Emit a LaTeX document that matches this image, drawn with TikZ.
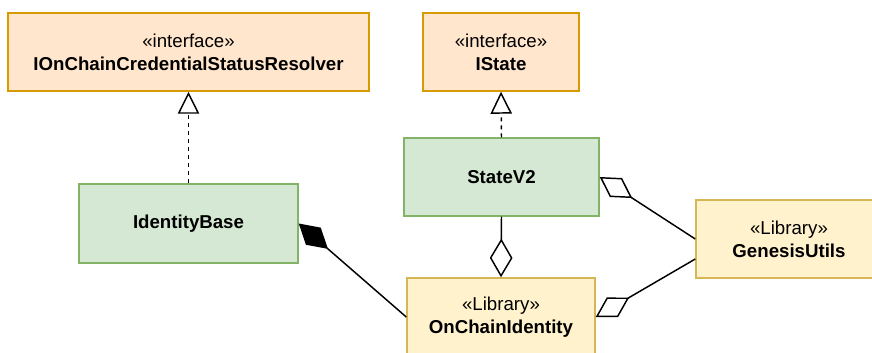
\documentclass[tikz,border=0pt]{standalone}
\usepackage{fontspec}
\setmainfont{Liberation Sans}
\usetikzlibrary{arrows.meta,calc}
\definecolor{ifill}{HTML}{FFE6CC}
\definecolor{idraw}{HTML}{D79B00}
\definecolor{cfill}{HTML}{D5E8D4}
\definecolor{cdraw}{HTML}{82B366}
\definecolor{lfill}{HTML}{FFF2CC}
\definecolor{ldraw}{HTML}{D6B656}
\tikzset{
  umlbox/.style={rectangle, line width=1.1pt, align=center, inner sep=0pt,
    font=\fontsize{14}{17.5}\selectfont},
  ifacebox/.style={umlbox, fill=ifill, draw=idraw},
  classbox/.style={umlbox, fill=cfill, draw=cdraw},
  libbox/.style={umlbox, fill=lfill, draw=ldraw},
  conn/.style={line width=1.1pt, black},
  realize/.style={conn, dash pattern=on 3pt off 3pt, -{Triangle[open, length=16.5pt, width=16pt, line width=1.1pt]}},
  aggr/.style={conn, -{Diamond[fill=white, length=29pt, width=17pt, line width=1.1pt]}},
  compo/.style={conn, -{Diamond[fill=black, length=29pt, width=17pt, line width=1.1pt]}},
}
\begin{document}
\begin{tikzpicture}[x=0.75pt, y=-0.75pt]
\useasboundingbox (0,0) rectangle (872,353);
\clip (0,0) rectangle (872,353);
\node[ifacebox, minimum width=361*0.75pt, minimum height=78*0.75pt] (res) at (188.5,52) {«interface»\\\textbf{IOnChainCredentialStatusResolver}};
\node[ifacebox, minimum width=156*0.75pt, minimum height=78*0.75pt] (ist) at (501,52) {«interface»\\\textbf{IState}};
\node[classbox, minimum width=219*0.75pt, minimum height=79*0.75pt] (idb) at (188.5,223.5) {\textbf{IdentityBase}};
\node[classbox, minimum width=195*0.75pt, minimum height=78*0.75pt] (sv2) at (501.5,177) {\textbf{StateV2}};
\node[libbox, minimum width=186*0.75pt, minimum height=78*0.75pt] (gu) at (789,239) {«Library»\\\textbf{GenesisUtils}};
\node[libbox, minimum width=188*0.75pt, minimum height=78*0.75pt] (oci) at (501,317) {«Library»\\\textbf{OnChainIdentity}};
\draw[realize] (idb.north) -- (res.south);
\draw[realize] (sv2.north) -- (ist.south);
\draw[aggr] (sv2.south) -- (oci.north);
\draw[compo] (oci.west) -- (idb.east);
\draw[aggr] (gu.west) -- (sv2.east);
\draw[aggr] ($(gu.west)+(0,20)$) -- (oci.east);
\end{tikzpicture}
\end{document}
